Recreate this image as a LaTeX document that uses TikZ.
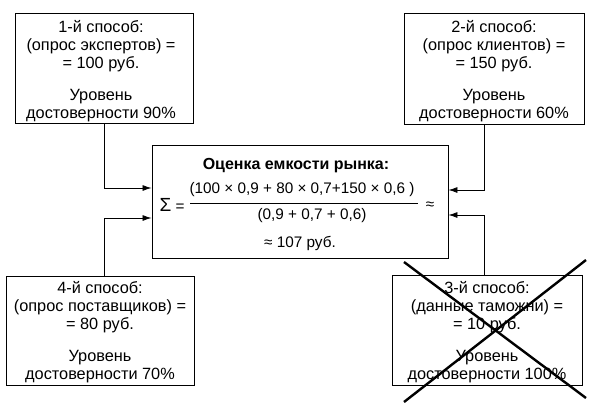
\documentclass[tikz,border=0pt]{standalone}
\usepackage{fontspec}
\setmainfont{Liberation Sans}
\usetikzlibrary{arrows.meta}
\begin{document}
\begin{tikzpicture}[x=1pt,y=-1pt,
  box/.style={draw,line width=0.9pt,inner sep=0pt},
  btxt/.style={align=center,inner sep=0pt,font=\fontsize{16.3}{18}\selectfont},
  txt/.style={inner sep=0pt,font=\fontsize{15.3}{17}\selectfont},
  arr/.style={line width=0.8pt,-{Latex[length=9pt,width=6pt]}},
  cross/.style={line width=2.4pt}]
\useasboundingbox (0,0) rectangle (589,405);
\node[box,minimum width=178pt,minimum height=110pt] (b1) at (104,68) {};
\node[btxt] (t1) at (101,71)
  {1-й способ:\\(опрос экспертов) =\\= 100 руб.\\[14pt]Уровень\\достоверности 90\%};
\node[box,minimum width=180pt,minimum height=111pt] (b2) at (494,68.5) {};
\node[btxt] (t2) at (494,71)
  {2-й способ:\\(опрос клиентов) =\\= 150 руб.\\[14pt]Уровень\\достоверности 60\%};
\node[box,minimum width=188pt,minimum height=109pt] (b4) at (100,330.5) {};
\node[btxt] (t4) at (100,332)
  {4-й способ:\\(опрос поставщиков) =\\= 80 руб.\\[14pt]Уровень\\достоверности 70\%};
\node[box,minimum width=190pt,minimum height=110pt] (b3) at (487,330) {};
\node[btxt] (t3) at (487,332)
  {3-й способ:\\(данные таможни) =\\= 10 руб.\\[14pt]Уровень\\достоверности 100\%};
\node[box,minimum width=296pt,minimum height=113pt] (c) at (300,201.5) {};
\node[txt,font=\fontsize{16}{18}\selectfont\bfseries] (title) at (296,166) {Оценка емкости рынка:};
\node[txt] (sig) at (172,205) {{\fontsize{19}{20}\selectfont Σ} =};
\node[txt] (num) at (302,190) {(100 × 0,9 + 80 × 0,7+150 × 0,6 )};
\node[txt] (den) at (312,216) {(0,9 + 0,7 + 0,6)};
\node[txt] (ap) at (430,206) {≈};
\node[txt] (res) at (300,243) {≈ 107 руб.};
\draw[line width=0.8pt] (190,203) -- (418,203);
\draw[arr] (b1.south) |- ([yshift=13.5pt]c.west);
\draw[arr] ([xshift=4pt]b4.north) |- ([yshift=-16.5pt]c.west);
\draw[arr] ([xshift=-10pt]b2.south) |- ([yshift=11.5pt]c.east);
\draw[arr] ([xshift=-3pt]b3.north) |- ([yshift=-13.5pt]c.east);
\draw[cross] (404,262) -- (586,398);
\draw[cross] (586,260) -- (404,402);
\end{tikzpicture}
\end{document}
